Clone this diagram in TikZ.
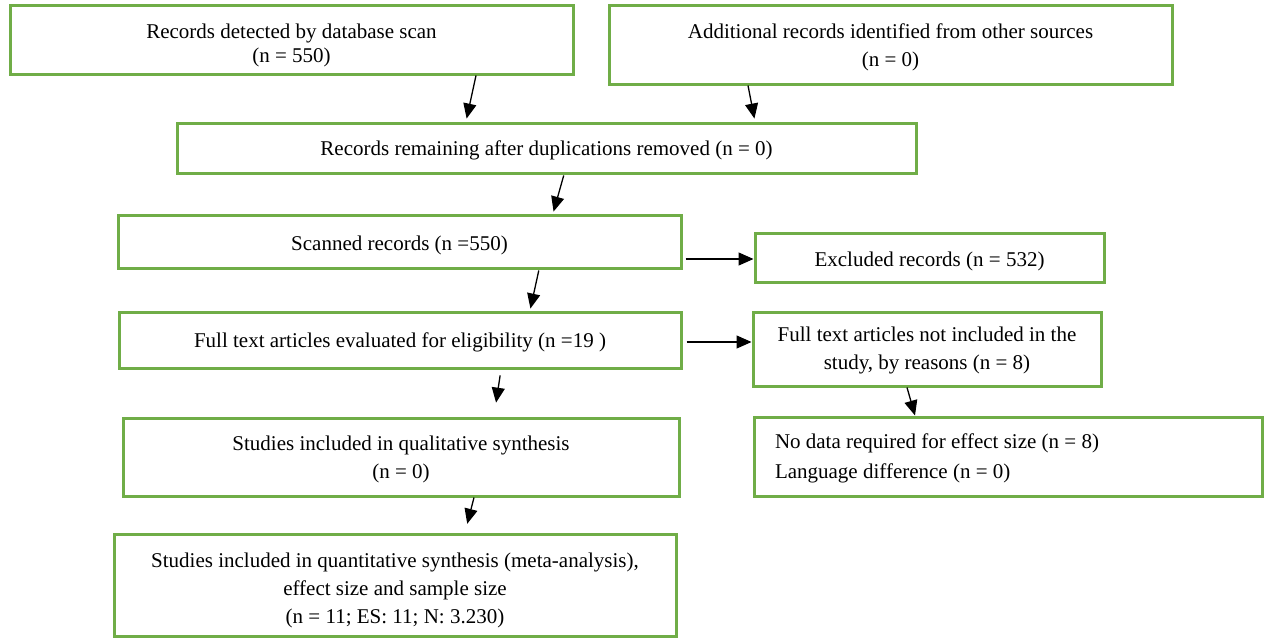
\documentclass[tikz,border=0pt]{standalone}
\usepackage{fontspec}
\setmainfont{Liberation Serif}
\usetikzlibrary{arrows.meta,positioning}
\definecolor{boxgreen}{HTML}{70AD47}
\newcommand\mylift[1]{\rule{0pt}{#1}}
\begin{document}
\begin{tikzpicture}[x=1pt,y=-1pt,
  box/.style={draw=boxgreen, line width=3pt, inner sep=0pt, align=center,
    font=\fontsize{21}{28}\selectfont},
  arr/.style={-{Triangle[length=15pt,width=13pt]}, line width=1.3pt, black}]
\useasboundingbox (0,0) rectangle (1265,637);
\node[box, minimum width=563pt, minimum height=69pt, font=\fontsize{21}{24}\selectfont] (B1) at (291.5,39.5)
  {\mylift{26.5pt}Records detected by database scan\\(n = 550)};
\node[box, minimum width=563pt, minimum height=79pt] (B2) at (890.5,44.5)
  {\mylift{20.5pt}Additional records identified from other sources\\(n = 0)};
\node[box, minimum width=739pt, minimum height=50pt] (B3) at (546.5,148)
  {\mylift{19.5pt}Records remaining after duplications removed (n = 0)};
\node[box, minimum width=563pt, minimum height=53pt] (B4) at (399.5,241.5)
  {\mylift{22pt}Scanned records (n =550)};
\node[box, minimum width=349pt, minimum height=49pt] (B5) at (929.5,257.5)
  {\mylift{22pt}Excluded records (n = 532)};
\node[box, minimum width=562pt, minimum height=56pt] (B6) at (400,340)
  {\mylift{19.5pt}Full text articles evaluated for eligibility (n =19 )};
\node[box, minimum width=348pt, minimum height=74pt] (B7) at (927,349)
  {\mylift{18.5pt}Full text articles not included in the\\study, by reasons (n = 8)};
\node[box, minimum width=556pt, minimum height=78pt] (B8) at (401,457)
  {\mylift{19.5pt}Studies included in qualitative synthesis\\(n = 0)};
\node[box, minimum width=508pt, minimum height=79pt, align=flush left, text width=466pt,
  font=\fontsize{21}{30}\selectfont] (B9) at (1008,456.5)
  {\mylift{18.5pt}No data required for effect size (n = 8)\\Language difference (n = 0)};
\node[box, minimum width=562pt, minimum height=102pt] (B10) at (395,585)
  {\mylift{24.5pt}Studies included in quantitative synthesis (meta-analysis),\\effect size and sample size\\(n = 11; ES: 11; N: 3.230)};
% connectors
\draw[arr, shorten >=3pt] ([xshift=184.5pt]B1.south) -- ([xshift=-80.5pt]B3.north);
\draw[arr, shorten >=3pt] ([xshift=-142.5pt]B2.south) -- ([xshift=208.5pt]B3.north);
\draw[arr, shorten <=1pt, shorten >=2pt] ([xshift=17.5pt]B3.south) -- ([xshift=153.5pt]B4.north);
\draw[arr, shorten <=1pt, shorten >=2pt] ([xshift=139.5pt]B4.south) -- ([xshift=130pt]B6.north);
\draw[arr, shorten <=6pt, shorten >=14pt] ([xshift=101pt]B6.south) -- ([xshift=93pt]B8.north);
\draw[arr, shorten >=9pt] ([xshift=73pt]B8.south) -- ([xshift=70pt]B10.north);
\draw[arr, shorten >=0pt] ([xshift=-20pt]B7.south) -- ([xshift=-93pt]B9.north);
\draw[arr, shorten <=3pt] ([yshift=-1.5pt]B4.east |- B5.west) -- ([yshift=-1.5pt]B5.west);
\draw[arr, shorten <=4pt] ([yshift=-2pt]B6.east) -- ([yshift=-2pt]B6.east -| B7.west);
\end{tikzpicture}
\end{document}
